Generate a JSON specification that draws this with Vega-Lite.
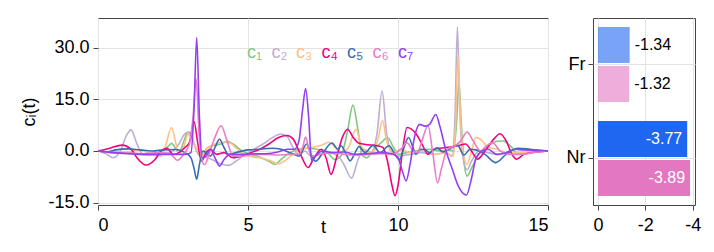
{
  "$schema": "https://vega.github.io/schema/vega-lite/v6.json",
  "padding": {"left": 20, "top": 17, "right": 5, "bottom": 5},
  "background": "white",
  "config": {
    "font": "Liberation Sans",
    "view": {"stroke": "#444", "strokeWidth": 1},
    "axis": {"labelFont": "Liberation Sans", "labelFontSize": 18, "labelColor": "#000", "titleFont": "Liberation Sans", "titleFontSize": 18, "titleFontWeight": "normal", "titleColor": "#000", "gridColor": "#e3e3e3", "tickColor": "#444", "domain": false, "tickSize": 5, "labelPadding": 4},
    "axisX": {"labelPadding": 6}
  },
  "bounds": "flush",
  "spacing": 45,
  "resolve": {"scale": {"color": "independent", "opacity": "independent"}, "legend": {"color": "independent"}},
  "hconcat": [
    {
      "width": 450,
      "height": 187,
      "data": {"values": [
        {"s":"c₁","t":0,"v":0},{"s":"c₁","t":0.5,"v":-0.3},{"s":"c₁","t":1.0,"v":-0.5},{"s":"c₁","t":1.5,"v":-1.0},{"s":"c₁","t":2.0,"v":-0.6},{"s":"c₁","t":2.3,"v":1.0},{"s":"c₁","t":2.45,"v":2.2},{"s":"c₁","t":2.6,"v":0.5},{"s":"c₁","t":2.7,"v":-0.5},{"s":"c₁","t":2.85,"v":2.5},{"s":"c₁","t":3.0,"v":5.5},{"s":"c₁","t":3.15,"v":3.5},{"s":"c₁","t":3.3,"v":0},{"s":"c₁","t":3.45,"v":-2},{"s":"c₁","t":3.6,"v":0.5},{"s":"c₁","t":3.8,"v":1.5},{"s":"c₁","t":4.1,"v":2},{"s":"c₁","t":4.3,"v":2.8},{"s":"c₁","t":4.5,"v":2},{"s":"c₁","t":4.8,"v":0},{"s":"c₁","t":5.1,"v":-1.0},{"s":"c₁","t":5.4,"v":-1.8},{"s":"c₁","t":5.7,"v":-3.0},{"s":"c₁","t":5.9,"v":-3.9},{"s":"c₁","t":6.1,"v":-2.5},{"s":"c₁","t":6.4,"v":-0.5},{"s":"c₁","t":6.7,"v":0.5},{"s":"c₁","t":7.0,"v":0.8},{"s":"c₁","t":7.3,"v":0.5},{"s":"c₁","t":7.6,"v":0},{"s":"c₁","t":7.9,"v":-2.5},{"s":"c₁","t":8.1,"v":-1.5},{"s":"c₁","t":8.3,"v":5},{"s":"c₁","t":8.5,"v":13.3},{"s":"c₁","t":8.65,"v":7},{"s":"c₁","t":8.8,"v":-1},{"s":"c₁","t":8.95,"v":-2},{"s":"c₁","t":9.2,"v":0.5},{"s":"c₁","t":9.45,"v":2.5},{"s":"c₁","t":9.65,"v":3.9},{"s":"c₁","t":9.85,"v":1},{"s":"c₁","t":10.0,"v":-1},{"s":"c₁","t":10.3,"v":-0.5},{"s":"c₁","t":10.6,"v":0},{"s":"c₁","t":11.0,"v":0.5},{"s":"c₁","t":11.4,"v":0},{"s":"c₁","t":11.7,"v":0.3},{"s":"c₁","t":11.85,"v":0},{"s":"c₁","t":11.95,"v":8},{"s":"c₁","t":12.03,"v":20},{"s":"c₁","t":12.11,"v":8},{"s":"c₁","t":12.2,"v":-3},{"s":"c₁","t":12.3,"v":-7.3},{"s":"c₁","t":12.45,"v":-5},{"s":"c₁","t":12.7,"v":-1},{"s":"c₁","t":13.0,"v":1.5},{"s":"c₁","t":13.3,"v":2.8},{"s":"c₁","t":13.5,"v":2.9},{"s":"c₁","t":13.8,"v":1},{"s":"c₁","t":14.0,"v":-1},{"s":"c₁","t":14.3,"v":-0.5},{"s":"c₁","t":14.6,"v":-0.2},{"s":"c₁","t":15,"v":0},

        {"s":"c₂","t":0,"v":0},{"s":"c₂","t":0.3,"v":-1},{"s":"c₂","t":0.5,"v":-2},{"s":"c₂","t":0.75,"v":0},{"s":"c₂","t":0.95,"v":4.5},{"s":"c₂","t":1.1,"v":6.1},{"s":"c₂","t":1.3,"v":2},{"s":"c₂","t":1.5,"v":-1},{"s":"c₂","t":1.8,"v":-1.2},{"s":"c₂","t":2.1,"v":-0.8},{"s":"c₂","t":2.4,"v":-0.5},{"s":"c₂","t":2.7,"v":2},{"s":"c₂","t":2.9,"v":5},{"s":"c₂","t":3.05,"v":5.5},{"s":"c₂","t":3.2,"v":2},{"s":"c₂","t":3.35,"v":-1},{"s":"c₂","t":3.5,"v":-1.5},{"s":"c₂","t":3.8,"v":-2.5},{"s":"c₂","t":4.1,"v":-3.8},{"s":"c₂","t":4.35,"v":-4.2},{"s":"c₂","t":4.6,"v":-3},{"s":"c₂","t":4.9,"v":-1},{"s":"c₂","t":5.2,"v":0.5},{"s":"c₂","t":5.5,"v":2},{"s":"c₂","t":5.8,"v":3.8},{"s":"c₂","t":6.1,"v":4.9},{"s":"c₂","t":6.3,"v":4.2},{"s":"c₂","t":6.5,"v":1},{"s":"c₂","t":6.7,"v":-1},{"s":"c₂","t":6.9,"v":0},{"s":"c₂","t":7.1,"v":-1.5},{"s":"c₂","t":7.4,"v":-1},{"s":"c₂","t":7.7,"v":-0.5},{"s":"c₂","t":8.0,"v":-1.5},{"s":"c₂","t":8.2,"v":-4},{"s":"c₂","t":8.45,"v":-7.9},{"s":"c₂","t":8.65,"v":-3},{"s":"c₂","t":8.85,"v":0.5},{"s":"c₂","t":9.1,"v":-0.5},{"s":"c₂","t":9.3,"v":5},{"s":"c₂","t":9.47,"v":17.4},{"s":"c₂","t":9.62,"v":5},{"s":"c₂","t":9.8,"v":-0.5},{"s":"c₂","t":10.0,"v":-1.5},{"s":"c₂","t":10.4,"v":-1},{"s":"c₂","t":10.8,"v":-0.5},{"s":"c₂","t":11.2,"v":-1},{"s":"c₂","t":11.6,"v":-0.5},{"s":"c₂","t":11.8,"v":-1.5},{"s":"c₂","t":11.9,"v":10},{"s":"c₂","t":11.98,"v":36},{"s":"c₂","t":12.06,"v":12},{"s":"c₂","t":12.15,"v":-1},{"s":"c₂","t":12.3,"v":-5.5},{"s":"c₂","t":12.45,"v":-3},{"s":"c₂","t":12.7,"v":0},{"s":"c₂","t":13.0,"v":-0.5},{"s":"c₂","t":13.3,"v":-1},{"s":"c₂","t":13.7,"v":-0.5},{"s":"c₂","t":14.2,"v":-0.5},{"s":"c₂","t":15,"v":0},

        {"s":"c₃","t":0,"v":0},{"s":"c₃","t":0.5,"v":-0.5},{"s":"c₃","t":1.0,"v":-0.3},{"s":"c₃","t":1.4,"v":0.3},{"s":"c₃","t":1.8,"v":-1},{"s":"c₃","t":2.1,"v":-1.5},{"s":"c₃","t":2.25,"v":1.5},{"s":"c₃","t":2.45,"v":6.8},{"s":"c₃","t":2.6,"v":2},{"s":"c₃","t":2.7,"v":-1},{"s":"c₃","t":2.85,"v":1},{"s":"c₃","t":3.0,"v":4.8},{"s":"c₃","t":3.15,"v":3},{"s":"c₃","t":3.3,"v":0.5},{"s":"c₃","t":3.45,"v":-1.5},{"s":"c₃","t":3.6,"v":0.5},{"s":"c₃","t":3.9,"v":2},{"s":"c₃","t":4.2,"v":2.5},{"s":"c₃","t":4.4,"v":2.3},{"s":"c₃","t":4.7,"v":0},{"s":"c₃","t":5.0,"v":-1.5},{"s":"c₃","t":5.4,"v":-2.0},{"s":"c₃","t":5.8,"v":-3},{"s":"c₃","t":6.0,"v":-3.8},{"s":"c₃","t":6.2,"v":-3},{"s":"c₃","t":6.5,"v":-1},{"s":"c₃","t":6.8,"v":0.5},{"s":"c₃","t":7.1,"v":1},{"s":"c₃","t":7.4,"v":1.5},{"s":"c₃","t":7.7,"v":2.5},{"s":"c₃","t":7.9,"v":1},{"s":"c₃","t":8.1,"v":-0.5},{"s":"c₃","t":8.35,"v":1},{"s":"c₃","t":8.6,"v":6.3},{"s":"c₃","t":8.8,"v":1},{"s":"c₃","t":9.0,"v":-0.5},{"s":"c₃","t":9.2,"v":0},{"s":"c₃","t":9.35,"v":4},{"s":"c₃","t":9.48,"v":8.9},{"s":"c₃","t":9.62,"v":3},{"s":"c₃","t":9.8,"v":-0.5},{"s":"c₃","t":10.1,"v":0.5},{"s":"c₃","t":10.4,"v":-0.5},{"s":"c₃","t":10.8,"v":0},{"s":"c₃","t":11.2,"v":-1},{"s":"c₃","t":11.6,"v":-0.5},{"s":"c₃","t":11.85,"v":-1.5},{"s":"c₃","t":11.93,"v":10},{"s":"c₃","t":12.0,"v":27.6},{"s":"c₃","t":12.08,"v":10},{"s":"c₃","t":12.18,"v":-1},{"s":"c₃","t":12.3,"v":-3.9},{"s":"c₃","t":12.45,"v":0},{"s":"c₃","t":12.6,"v":3.9},{"s":"c₃","t":12.8,"v":3},{"s":"c₃","t":13.0,"v":1},{"s":"c₃","t":13.3,"v":0.5},{"s":"c₃","t":13.6,"v":-0.5},{"s":"c₃","t":14.0,"v":-0.5},{"s":"c₃","t":14.5,"v":-0.3},{"s":"c₃","t":15,"v":0},

        {"s":"c₄","t":0,"v":0},{"s":"c₄","t":0.4,"v":0.8},{"s":"c₄","t":0.8,"v":1.7},{"s":"c₄","t":1.1,"v":0.5},{"s":"c₄","t":1.3,"v":-2},{"s":"c₄","t":1.6,"v":-4.1},{"s":"c₄","t":1.9,"v":-2.5},{"s":"c₄","t":2.1,"v":0},{"s":"c₄","t":2.3,"v":0.8},{"s":"c₄","t":2.5,"v":-1},{"s":"c₄","t":2.7,"v":-0.5},{"s":"c₄","t":2.9,"v":1},{"s":"c₄","t":3.05,"v":2.5},{"s":"c₄","t":3.2,"v":8.5},{"s":"c₄","t":3.33,"v":2},{"s":"c₄","t":3.45,"v":-3},{"s":"c₄","t":3.6,"v":-0.5},{"s":"c₄","t":3.75,"v":0.5},{"s":"c₄","t":3.95,"v":-1},{"s":"c₄","t":4.2,"v":-0.5},{"s":"c₄","t":4.5,"v":-2},{"s":"c₄","t":4.8,"v":-1.5},{"s":"c₄","t":5.1,"v":-0.5},{"s":"c₄","t":5.4,"v":0.5},{"s":"c₄","t":5.7,"v":2},{"s":"c₄","t":6.0,"v":3.8},{"s":"c₄","t":6.3,"v":4.5},{"s":"c₄","t":6.5,"v":3.5},{"s":"c₄","t":6.75,"v":-1},{"s":"c₄","t":7.0,"v":-4.8},{"s":"c₄","t":7.2,"v":-2},{"s":"c₄","t":7.45,"v":0.5},{"s":"c₄","t":7.6,"v":-2},{"s":"c₄","t":7.77,"v":-6.8},{"s":"c₄","t":7.95,"v":-2},{"s":"c₄","t":8.15,"v":4},{"s":"c₄","t":8.32,"v":6.3},{"s":"c₄","t":8.5,"v":4},{"s":"c₄","t":8.7,"v":2.2},{"s":"c₄","t":9.0,"v":1.8},{"s":"c₄","t":9.3,"v":1.5},{"s":"c₄","t":9.5,"v":1},{"s":"c₄","t":9.65,"v":-3},{"s":"c₄","t":9.8,"v":-10},{"s":"c₄","t":9.9,"v":-13},{"s":"c₄","t":10.0,"v":-10},{"s":"c₄","t":10.15,"v":0},{"s":"c₄","t":10.3,"v":6.8},{"s":"c₄","t":10.6,"v":5},{"s":"c₄","t":10.8,"v":2},{"s":"c₄","t":11.0,"v":-1},{"s":"c₄","t":11.2,"v":0.5},{"s":"c₄","t":11.6,"v":1},{"s":"c₄","t":12.0,"v":1.5},{"s":"c₄","t":12.25,"v":2},{"s":"c₄","t":12.45,"v":0},{"s":"c₄","t":12.65,"v":-2.4},{"s":"c₄","t":12.9,"v":0},{"s":"c₄","t":13.2,"v":3.5},{"s":"c₄","t":13.4,"v":5},{"s":"c₄","t":13.6,"v":3},{"s":"c₄","t":13.8,"v":-1},{"s":"c₄","t":13.95,"v":-2.4},{"s":"c₄","t":14.2,"v":-1},{"s":"c₄","t":14.6,"v":-0.3},{"s":"c₄","t":15,"v":0},

        {"s":"c₅","t":0,"v":0},{"s":"c₅","t":0.3,"v":-0.3},{"s":"c₅","t":0.6,"v":0.3},{"s":"c₅","t":1.0,"v":0.6},{"s":"c₅","t":1.4,"v":0.3},{"s":"c₅","t":1.8,"v":0},{"s":"c₅","t":2.2,"v":0.3},{"s":"c₅","t":2.6,"v":0.4},{"s":"c₅","t":2.9,"v":-0.5},{"s":"c₅","t":3.1,"v":-2},{"s":"c₅","t":3.2,"v":-5},{"s":"c₅","t":3.29,"v":-8.2},{"s":"c₅","t":3.38,"v":-4},{"s":"c₅","t":3.5,"v":0},{"s":"c₅","t":3.6,"v":-0.5},{"s":"c₅","t":3.75,"v":-1.5},{"s":"c₅","t":3.9,"v":1},{"s":"c₅","t":4.05,"v":3.4},{"s":"c₅","t":4.2,"v":1},{"s":"c₅","t":4.35,"v":-1},{"s":"c₅","t":4.6,"v":-0.5},{"s":"c₅","t":5.0,"v":0.3},{"s":"c₅","t":5.4,"v":0.5},{"s":"c₅","t":5.8,"v":0.8},{"s":"c₅","t":6.1,"v":0.5},{"s":"c₅","t":6.4,"v":-0.5},{"s":"c₅","t":6.7,"v":-1.5},{"s":"c₅","t":6.95,"v":2},{"s":"c₅","t":7.1,"v":-1},{"s":"c₅","t":7.25,"v":-3},{"s":"c₅","t":7.5,"v":-0.5},{"s":"c₅","t":7.8,"v":2.3},{"s":"c₅","t":8.0,"v":0.5},{"s":"c₅","t":8.1,"v":1.5},{"s":"c₅","t":8.3,"v":-1.5},{"s":"c₅","t":8.4,"v":-2.9},{"s":"c₅","t":8.6,"v":0},{"s":"c₅","t":8.7,"v":1.3},{"s":"c₅","t":8.9,"v":-0.5},{"s":"c₅","t":9.17,"v":1.6},{"s":"c₅","t":9.4,"v":-0.5},{"s":"c₅","t":9.7,"v":1.5},{"s":"c₅","t":9.9,"v":-1},{"s":"c₅","t":10.05,"v":-2.5},{"s":"c₅","t":10.2,"v":1},{"s":"c₅","t":10.35,"v":3.9},{"s":"c₅","t":10.5,"v":1},{"s":"c₅","t":10.6,"v":-1},{"s":"c₅","t":10.75,"v":0.5},{"s":"c₅","t":10.9,"v":0.4},{"s":"c₅","t":11.05,"v":-0.5},{"s":"c₅","t":11.3,"v":0.9},{"s":"c₅","t":11.5,"v":-0.3},{"s":"c₅","t":11.7,"v":0.5},{"s":"c₅","t":11.98,"v":1.7},{"s":"c₅","t":12.2,"v":-1.2},{"s":"c₅","t":12.4,"v":0.5},{"s":"c₅","t":12.6,"v":0.3},{"s":"c₅","t":12.9,"v":-1},{"s":"c₅","t":13.26,"v":-3.4},{"s":"c₅","t":13.6,"v":-1},{"s":"c₅","t":14.0,"v":0.8},{"s":"c₅","t":14.4,"v":0.5},{"s":"c₅","t":14.7,"v":0.2},{"s":"c₅","t":15,"v":0},

        {"s":"c₆","t":0,"v":0},{"s":"c₆","t":0.5,"v":-0.5},{"s":"c₆","t":1.0,"v":-0.6},{"s":"c₆","t":1.5,"v":-0.8},{"s":"c₆","t":2.0,"v":-0.5},{"s":"c₆","t":2.4,"v":-0.8},{"s":"c₆","t":2.65,"v":-2.7},{"s":"c₆","t":2.85,"v":-1},{"s":"c₆","t":3.05,"v":2},{"s":"c₆","t":3.17,"v":10},{"s":"c₆","t":3.27,"v":21},{"s":"c₆","t":3.37,"v":5},{"s":"c₆","t":3.45,"v":-2},{"s":"c₆","t":3.55,"v":-4},{"s":"c₆","t":3.7,"v":-1},{"s":"c₆","t":3.9,"v":4},{"s":"c₆","t":4.1,"v":7.3},{"s":"c₆","t":4.3,"v":3},{"s":"c₆","t":4.5,"v":-1.5},{"s":"c₆","t":4.8,"v":-1.5},{"s":"c₆","t":5.2,"v":-1},{"s":"c₆","t":5.6,"v":-1},{"s":"c₆","t":6.0,"v":-1.2},{"s":"c₆","t":6.4,"v":-1},{"s":"c₆","t":6.7,"v":-1},{"s":"c₆","t":6.82,"v":1},{"s":"c₆","t":6.92,"v":4},{"s":"c₆","t":7.03,"v":0.5},{"s":"c₆","t":7.15,"v":-1.5},{"s":"c₆","t":7.4,"v":-1},{"s":"c₆","t":7.8,"v":-0.5},{"s":"c₆","t":8.2,"v":-1},{"s":"c₆","t":8.6,"v":-1.2},{"s":"c₆","t":9.0,"v":-1},{"s":"c₆","t":9.4,"v":-0.8},{"s":"c₆","t":9.8,"v":-1},{"s":"c₆","t":10.1,"v":0.5},{"s":"c₆","t":10.3,"v":2.4},{"s":"c₆","t":10.5,"v":0},{"s":"c₆","t":10.65,"v":-0.5},{"s":"c₆","t":10.8,"v":3},{"s":"c₆","t":11.0,"v":7.3},{"s":"c₆","t":11.15,"v":0},{"s":"c₆","t":11.32,"v":-9.3},{"s":"c₆","t":11.45,"v":-5},{"s":"c₆","t":11.65,"v":0.5},{"s":"c₆","t":11.9,"v":1.5},{"s":"c₆","t":12.1,"v":3},{"s":"c₆","t":12.3,"v":5.5},{"s":"c₆","t":12.5,"v":3},{"s":"c₆","t":12.75,"v":0},{"s":"c₆","t":12.9,"v":1},{"s":"c₆","t":13.15,"v":2.4},{"s":"c₆","t":13.4,"v":0},{"s":"c₆","t":13.7,"v":-1},{"s":"c₆","t":14.1,"v":-1},{"s":"c₆","t":14.5,"v":-0.5},{"s":"c₆","t":15,"v":0},

        {"s":"c₇","t":0,"v":0},{"s":"c₇","t":0.5,"v":-0.5},{"s":"c₇","t":1.0,"v":-0.8},{"s":"c₇","t":1.5,"v":-1},{"s":"c₇","t":2.0,"v":-1},{"s":"c₇","t":2.5,"v":-1},{"s":"c₇","t":2.9,"v":-1},{"s":"c₇","t":3.1,"v":-0.5},{"s":"c₇","t":3.2,"v":12},{"s":"c₇","t":3.29,"v":32.9},{"s":"c₇","t":3.38,"v":10},{"s":"c₇","t":3.47,"v":-2},{"s":"c₇","t":3.6,"v":-1.5},{"s":"c₇","t":3.75,"v":0.5},{"s":"c₇","t":3.9,"v":-2},{"s":"c₇","t":4.05,"v":-4.4},{"s":"c₇","t":4.2,"v":-2.5},{"s":"c₇","t":4.4,"v":-1},{"s":"c₇","t":4.8,"v":-1},{"s":"c₇","t":5.2,"v":-0.8},{"s":"c₇","t":5.6,"v":-0.8},{"s":"c₇","t":6.0,"v":-0.3},{"s":"c₇","t":6.3,"v":0.5},{"s":"c₇","t":6.55,"v":0.5},{"s":"c₇","t":6.7,"v":3},{"s":"c₇","t":6.82,"v":12},{"s":"c₇","t":6.92,"v":18.1},{"s":"c₇","t":7.02,"v":10},{"s":"c₇","t":7.12,"v":-2.9},{"s":"c₇","t":7.3,"v":-1},{"s":"c₇","t":7.5,"v":0},{"s":"c₇","t":7.8,"v":-0.5},{"s":"c₇","t":8.2,"v":-0.3},{"s":"c₇","t":8.6,"v":-1},{"s":"c₇","t":9.0,"v":-0.8},{"s":"c₇","t":9.4,"v":-0.5},{"s":"c₇","t":9.8,"v":-0.8},{"s":"c₇","t":10.0,"v":-2},{"s":"c₇","t":10.15,"v":-6},{"s":"c₇","t":10.27,"v":-8.7},{"s":"c₇","t":10.4,"v":-4},{"s":"c₇","t":10.55,"v":4},{"s":"c₇","t":10.72,"v":7.7},{"s":"c₇","t":10.9,"v":7.2},{"s":"c₇","t":11.05,"v":7.7},{"s":"c₇","t":11.26,"v":10.6},{"s":"c₇","t":11.4,"v":7},{"s":"c₇","t":11.6,"v":0},{"s":"c₇","t":11.8,"v":-5},{"s":"c₇","t":12.0,"v":-10},{"s":"c₇","t":12.28,"v":-12.8},{"s":"c₇","t":12.45,"v":-8},{"s":"c₇","t":12.6,"v":-2},{"s":"c₇","t":12.8,"v":0},{"s":"c₇","t":13.0,"v":0.5},{"s":"c₇","t":13.3,"v":-1},{"s":"c₇","t":13.6,"v":-0.5},{"s":"c₇","t":13.9,"v":0.5},{"s":"c₇","t":14.2,"v":0.3},{"s":"c₇","t":14.6,"v":0.2},{"s":"c₇","t":15,"v":0}
      ]},
      "mark": {"type": "line", "interpolate": "monotone", "strokeWidth": 1.6, "clip": true},
      "encoding": {
        "x": {"field": "t", "type": "quantitative", "scale": {"domain": [0, 15], "nice": false},
              "axis": {"values": [0, 5, 10, 15], "title": "t", "titleY": 27, "titleBaseline": "alphabetic", "grid": true}},
        "y": {"field": "v", "type": "quantitative", "scale": {"domain": [-15.7, 38.6], "nice": false, "zero": false},
              "axis": {"values": [-15, 0, 15, 30], "labelExpr": "(datum.value < 0 ? '-' : '') + format(abs(datum.value), '.1f')", "title": "cᵢ(t)", "titlePadding": 9, "grid": true}},
        "color": {"field": "s", "type": "nominal",
                  "scale": {"domain": ["c₁","c₂","c₃","c₄","c₅","c₆","c₇"], "range": ["#7fc97f","#beaed4","#fdc086","#f0027f","#386cb0","#e97dc8","#9440f0"]},
                  "legend": {"orient": "none", "legendX": 152, "legendY": 26, "direction": "horizontal", "columns": 7, "title": null,
                             "symbolSize": 0, "symbolStrokeWidth": 0, "symbolOpacity": 0, "labelOffset": -21, "columnPadding": 8.5,
                             "labelFont": "Liberation Sans", "labelFontSize": 18, "padding": 0,
                             "encode": {"labels": {"update": {"fill": {"signal": "['#7fc97f','#beaed4','#fdc086','#f0027f','#386cb0','#e97dc8','#9440f0'][datum.index]"}}}}}}
      }
    },
    {
      "width": 102,
      "height": 187,
      "data": {"values": [
        {"cat": "Fr", "m": "a", "val": -1.34},
        {"cat": "Fr", "m": "b", "val": -1.32},
        {"cat": "Nr", "m": "a", "val": -3.77},
        {"cat": "Nr", "m": "b", "val": -3.89}
      ]},
      "transform": [{"calculate": "(datum.val < 0 ? '-' : '') + format(abs(datum.val), '.2f')", "as": "lab"}],
      "encoding": {
        "y": {"field": "cat", "type": "nominal", "sort": ["Fr", "Nr"], "scale": {"paddingInner": 0.2, "paddingOuter": 0.095},
              "axis": {"title": null, "grid": true, "labelPadding": 3}},
        "yOffset": {"field": "m", "type": "nominal", "scale": {"paddingInner": 0.08}},
        "x": {"field": "val", "type": "quantitative", "scale": {"domain": [0.21, -4.1], "nice": false},
              "axis": {"values": [0, -2, -4], "title": null, "labelExpr": "(datum.value < 0 ? '-' : '') + format(abs(datum.value), 'd')", "grid": true}}
      },
      "layer": [
        {"mark": {"type": "bar"},
         "encoding": {
           "color": {"field": "m", "type": "nominal", "scale": {"domain": ["a", "b"], "range": ["#1f66f0", "#e377c2"]}, "legend": null},
           "opacity": {"field": "cat", "type": "nominal", "scale": {"domain": ["Fr", "Nr"], "range": [0.6, 1]}, "legend": null}
         }},
        {"transform": [{"filter": "datum.cat === 'Fr'"}],
         "mark": {"type": "text", "align": "left", "dx": 5, "fontSize": 16, "color": "#000"},
         "encoding": {"text": {"field": "lab", "type": "nominal"}}},
        {"transform": [{"filter": "datum.cat === 'Nr'"}],
         "mark": {"type": "text", "align": "right", "dx": -5, "fontSize": 16, "color": "white"},
         "encoding": {"text": {"field": "lab", "type": "nominal"}}}
      ]
    }
  ]
}
